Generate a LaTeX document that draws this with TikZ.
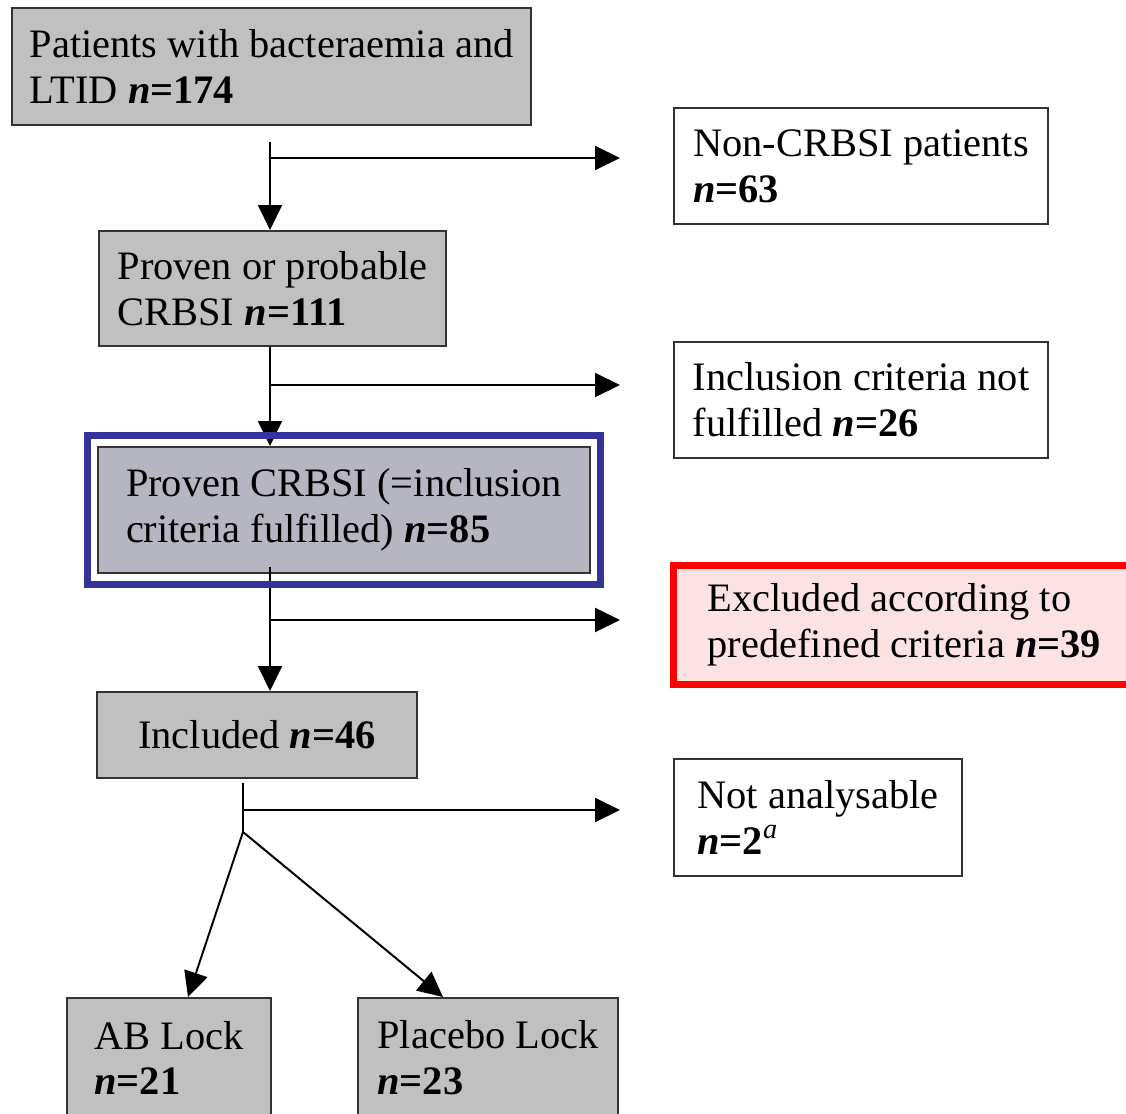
\documentclass[tikz,border=0pt]{standalone}
\usepackage{fontspec}
\setmainfont{Liberation Serif}
\usetikzlibrary{arrows.meta,positioning,fit}
\definecolor{boxgrey}{HTML}{C0C0C0}
\definecolor{lockblue}{HTML}{333399}
\definecolor{paleviolet}{HTML}{B6B6C2}
\definecolor{palepink}{HTML}{FCE2E2}
\definecolor{framered}{HTML}{FF0000}
\definecolor{edge}{HTML}{333333}

\begin{document}
\begin{tikzpicture}[
        font=\fontsize{23}{26}\selectfont,
        box/.style={draw=edge, line width=0.04cm, rectangle, align=left, minimum height=2.32cm},
        grey/.style={box, fill=boxgrey},
        hilite/.style={draw=lockblue, line width=0.14cm},
        flow/.style={-{Triangle[length=0.5cm, width=0.48cm]}, line width=0.04cm},
        tap/.style={line width=0.04cm}
    ]
        \useasboundingbox (0,0) rectangle (22.52,-22.26);
        \clip (0,0) rectangle (22.52,-22.26);

        % main column
        \node[grey, minimum width=10.38cm, minimum height=2.34cm] (bact) at (5.43,-1.33) {Patients with bacteraemia and\\LTID \textbf{\textit{n}=174}};
        \node[grey, minimum width=6.94cm, minimum height=2.30cm] (probable) at (5.45,-5.77) {Proven or probable\\CRBSI \textbf{\textit{n}=111}};
        \node[box, fill=paleviolet, minimum width=9.84cm, minimum height=2.52cm] (crbsi) at (6.88,-10.20) {Proven CRBSI (=inclusion\\criteria fulfilled) \textbf{\textit{n}=85}};
        \node[grey, minimum width=6.40cm, minimum height=1.72cm] (included) at (5.14,-14.70) {Included \textbf{\textit{n}=46}};
        \node[grey, minimum width=4.08cm, minimum height=2.40cm] (ablock) at (3.38,-21.16) {AB Lock\\\textbf{\textit{n}=21}};
        \node[grey, minimum width=5.20cm, minimum height=2.40cm] (placebo) at (9.76,-21.16) {Placebo Lock\\\textbf{\textit{n}=23}};

        % side boxes
        \node[box, minimum width=7.48cm] (noncrbsi) at (17.22,-3.32) {Non-CRBSI patients\\\textbf{\textit{n}=63}};
        \node[box, minimum width=7.48cm] (notfulfilled) at (17.22,-8.00) {Inclusion criteria not\\fulfilled \textbf{\textit{n}=26}};
        \node[box, draw=framered, line width=0.14cm, fill=palepink, minimum width=9.23cm, minimum height=2.38cm] (excluded) at (18.085,-12.50) {Excluded according to\\predefined criteria \textbf{\textit{n}=39}};
        \node[box, minimum width=5.76cm, minimum height=2.34cm] (notanalysable) at (16.36,-16.35) {Not analysable\\\textbf{\textit{n}=2}\textsuperscript{\textit{a}}};

        % branch points
        \coordinate (s1) at (5.40,-2.84);
        \coordinate (e1) at (12.40,-3.16);
        \coordinate (e2) at (12.40,-7.70);
        \coordinate (s3) at (5.40,-11.34);
        \coordinate (e3) at (12.40,-12.40);
        \coordinate (s4) at (4.86,-15.66);
        \coordinate (e4) at (12.40,-16.20);
        \coordinate (fork) at (4.86,-16.64);

        \draw[flow] (s1) -- (s1 |- probable.north);
        \draw[flow] (s1 |- e1) -- (e1);

        \draw[flow] (s1 |- probable.south) -- (s1 |- crbsi.north);
        \draw[flow] (s1 |- e2) -- (e2);

        \draw[flow] (s3) -- (s3 |- included.north);
        \draw[flow] (s3 |- e3) -- (e3);

        \draw[tap] (s4) -- (fork);
        \draw[flow] (s4 |- e4) -- (e4);
        \draw[flow] (fork) -- ([xshift=0.38cm]ablock.north);
        \draw[flow] (fork) -- ([xshift=-0.90cm]placebo.north);

        \node[hilite, fit=(crbsi), inner xsep=0.19cm, inner ysep=0.21cm] (crbsiframe) {};
    \end{tikzpicture}
\end{document}
